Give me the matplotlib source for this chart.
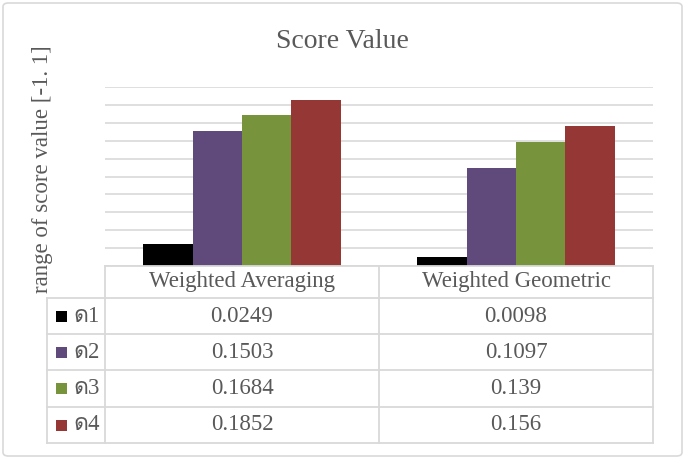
import matplotlib
matplotlib.use("Agg")
import matplotlib.pyplot as plt
from matplotlib import font_manager
from matplotlib.patches import Rectangle, FancyBboxPatch
from matplotlib.lines import Line2D
import numpy as np

# ---------------- data ----------------
categories = ["Weighted Averaging", "Weighted Geometric"]
series_names = ["1", "2", "3", "4"]
w1 = [0.0249, 0.0098]
w2 = [0.1503, 0.1097]
w3 = [0.1684, 0.139]
w4 = [0.1852, 0.156]
series_values = [w1, w2, w3, w4]
colors = ["#000000", "#604A7B", "#77933C", "#953735"]
title = "Score Value"
ylabel = "range of score value [-1. 1]"

# find a font with the Thai glyph used in the legend labels
thai_char = "\u0E14"
thai_font = None
try:
    from fontTools.ttLib import TTFont
    for f in font_manager.fontManager.ttflist:
        try:
            tt = TTFont(f.fname, fontNumber=0, lazy=True)
            cmap = tt.getBestCmap()
            if cmap and 0x0E14 in cmap:
                thai_font = f.name
                break
        except Exception:
            continue
except Exception:
    pass
if thai_font is None:
    prefix = "\u03C9"
    label_family = ["Liberation Serif", "DejaVu Sans"]
else:
    prefix = thai_char
    label_family = ["Liberation Serif", thai_font, "DejaVu Sans"]

W, H = 685, 459
fig = plt.figure(figsize=(W / 100, H / 100), dpi=100)
TXT = "#595959"
GRID = "#D9D9D9"
SERIF = "Liberation Serif"
FS = 16.5


def fx(x):
    return x / W


def fy(y):
    return 1 - y / H


# outer border
fig.patches.append(FancyBboxPatch((fx(3), fy(456)), fx(679), 453 / H,
                                  boxstyle="round,pad=0,rounding_size=0.008",
                                  transform=fig.transFigure, fill=False,
                                  edgecolor=GRID, linewidth=1.2))

# plot area
left, right, top, base = 105, 653, 87, 266
ax = fig.add_axes([fx(left), fy(base), (right - left) / W, (base - top) / H])
n = len(series_values)
bw = 0.18
x = np.arange(len(categories))
for i, (vals, c) in enumerate(zip(series_values, colors)):
    ax.bar(x + (i - (n - 1) / 2) * bw, vals, width=bw, color=c, zorder=3)
ax.set_xlim(-0.5, len(categories) - 0.5)
ax.set_ylim(0, 0.2)
ax.set_yticks(np.arange(0, 0.2001, 0.02))
ax.yaxis.grid(True, color=GRID, linewidth=1.2, zorder=0)
ax.tick_params(left=False, bottom=False, labelleft=False, labelbottom=False)
for s in ax.spines.values():
    s.set_visible(False)
ax.set_facecolor("none")

# title and y label
fig.text(fx(342), fy(41), title, ha="center", va="center",
         fontsize=20, family=SERIF, color=TXT)
fig.text(fx(43), fy(169), ylabel, ha="center", va="center", rotation=90,
         fontsize=FS, family=SERIF, color=TXT)

# data table
row_lines = [298, 334, 370, 407, 443]
col_x = [105, 379, 653]


def hline(y, x0, x1):
    fig.add_artist(Line2D([fx(x0), fx(x1)], [fy(y), fy(y)], color=GRID,
                          linewidth=1.3, transform=fig.transFigure))


def vline(xv, y0, y1):
    fig.add_artist(Line2D([fx(xv), fx(xv)], [fy(y0), fy(y1)], color=GRID,
                          linewidth=1.3, transform=fig.transFigure))


hline(base, left, right)
for y in row_lines:
    hline(y, 47, right)
for xv in col_x:
    vline(xv, base, row_lines[-1])
vline(47, row_lines[0], row_lines[-1])

# header
for j, cat in enumerate(categories):
    cx = (col_x[j] + col_x[j + 1]) / 2
    fig.text(fx(cx), fy((base + row_lines[0]) / 2), cat, ha="center",
             va="center", fontsize=FS, family=SERIF, color=TXT)

# rows
for i, (name, vals, c) in enumerate(zip(series_names, series_values, colors)):
    y0, y1 = row_lines[i], row_lines[i + 1]
    cy = (y0 + y1) / 2
    fig.patches.append(Rectangle((fx(56), fy(cy + 5.5)), 11 / W, 11 / H,
                                 transform=fig.transFigure, facecolor=c,
                                 edgecolor="none"))
    fig.text(fx(73), fy(cy), prefix + name, ha="left", va="center",
             fontsize=FS, family=label_family, color=TXT)
    for j, v in enumerate(vals):
        cx = (col_x[j] + col_x[j + 1]) / 2
        fig.text(fx(cx), fy(cy), str(v), ha="center", va="center",
                 fontsize=FS, family=SERIF, color=TXT)

fig.savefig("out.png", dpi=100)
